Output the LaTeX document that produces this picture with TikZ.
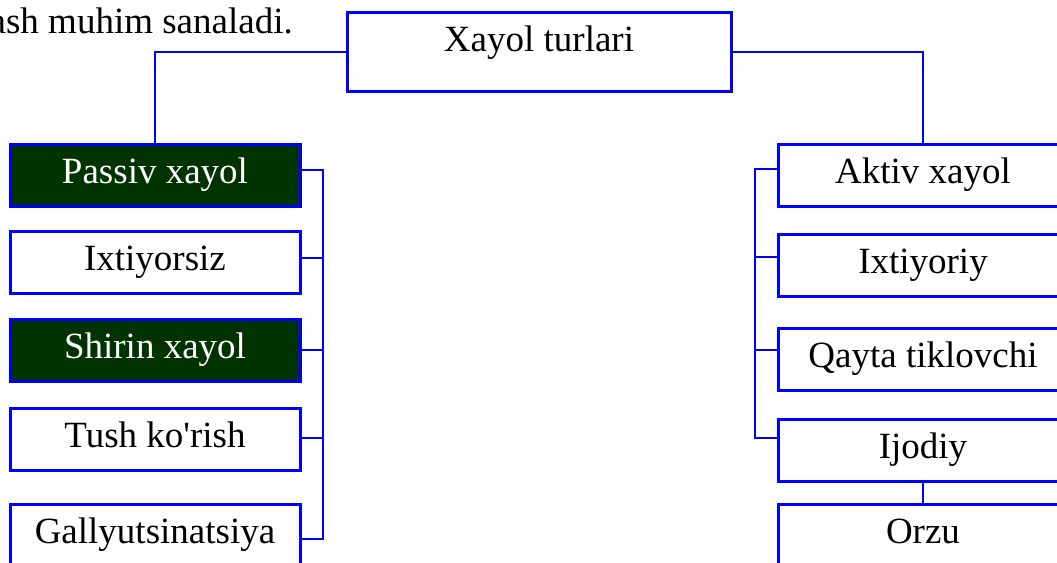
\documentclass[tikz,border=0pt]{standalone}
\usepackage{fontspec}
\setmainfont{Liberation Serif}
\newfontfamily\plainserif{Liberation Serif}
\definecolor{dkgreen}{RGB}{0,51,0}
\tikzset{
  box/.style={draw=blue, line width=3pt, fill=white, minimum width=290pt,
    minimum height=62pt, inner sep=0pt, text height=39pt, text depth=23pt,
    anchor=north, font=\fontsize{37}{44}\selectfont},
  darkbox/.style={fill=dkgreen, text=white},
  conn/.style={draw=blue, line width=2pt},
}
\begin{document}
\begin{tikzpicture}[x=1pt,y=-1pt]
\useasboundingbox (0,0) rectangle (1057,562);
\clip (0,0) rectangle (1057,562);

\node[anchor=base east, font=\fontsize{37}{44}\selectfont, inner sep=0pt] (note) at (293,33) {ash muhim sanaladi.};

\node[box, minimum width=384pt, minimum height=79pt, text depth=40pt] (top) at (539,11) {Xayol turlari};

\node[box, darkbox] (passiv) at (155,143) {Passiv xayol};
\node[box] (ixtiyorsiz) at (155,230) {Ixtiyorsiz};
\node[box, darkbox] (shirin) at (155,318) {Shirin xayol};
\node[box, font=\plainserif\fontsize{37}{44}\selectfont] (tush) at (155,407) {Tush ko'rish};
\node[box] (gally) at (155,503) {Gallyutsinatsiya};

\node[box] (aktiv) at (923,143) {Aktiv xayol};
\node[box] (ixtiyoriy) at (923,233) {Ixtiyoriy};
\node[box] (qayta) at (923,327) {Qayta tiklovchi};
\node[box] (ijodiy) at (923,418) {Ijodiy};
\node[box] (orzu) at (923,503) {Orzu};

\draw[conn] (top.west) -| (passiv.north);
\draw[conn] (top.east) -| (aktiv.north);

\coordinate (lbtop) at (323,170);
\coordinate (lbbot) at (323,539);
\draw[conn] (passiv.east |- lbtop) -- (lbtop) -- (lbbot) -- (gally.east |- lbbot);
\draw[conn] (ixtiyorsiz.east |- 0,258) -- (323,258);
\draw[conn] (shirin.east |- 0,350) -- (323,350);
\draw[conn] (tush.east |- 0,438) -- (323,438);

\coordinate (rbtop) at (755,169);
\coordinate (rbbot) at (755,438);
\draw[conn] (aktiv.west |- rbtop) -- (rbtop) -- (rbbot) -- (ijodiy.west |- rbbot);
\draw[conn] (ixtiyoriy.west |- 0,257) -- (755,257);
\draw[conn] (qayta.west |- 0,350) -- (755,350);

\draw[conn] (ijodiy.south) -- (orzu.north);
\end{tikzpicture}
\end{document}
